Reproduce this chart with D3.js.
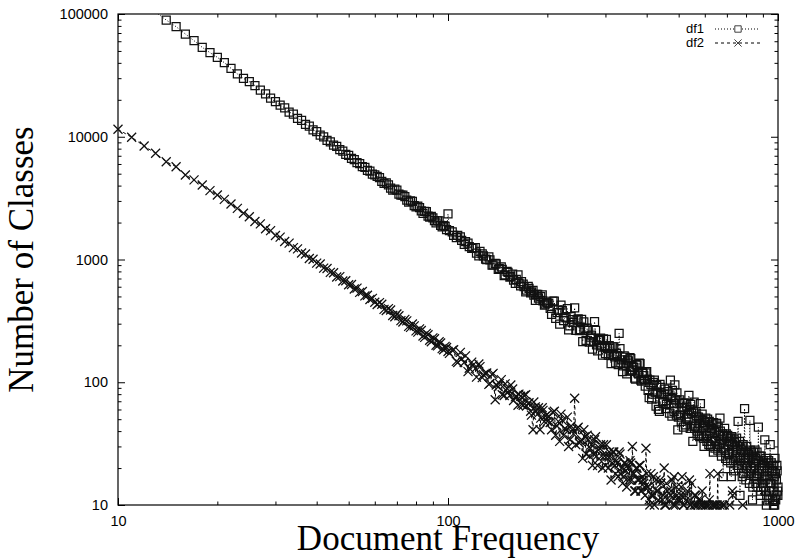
<!DOCTYPE html>
<html lang="en">
<head>
<meta charset="utf-8">
<title>df1 / df2</title>
<script src="https://d3js.org/d3.v7.min.js"></script>
<style>
  body { margin: 0; background: #fff; }
  .tick text { font-family: "Liberation Sans", Arial, sans-serif; font-size: 14.5px; fill: #000; }
  .title { font-family: "Liberation Serif", "Times New Roman", serif; font-size: 35px; fill: #000; }
  .legend text { font-family: "Liberation Sans", Arial, sans-serif; font-size: 13px; fill: #000; }
</style>
</head>
<body>
<div id="chart"></div>
<script>
// document frequencies sampled along the axis
var freqA = [10,11,12,13,14,15,16,17,18,19,20,21,22,23,24,25,26,27,28,29,30,31,32,33,34,35,36,37,38,39,
  40,41,42,43,44,45,46,47,48,49,50,51,52,53,54,55,56,57,58,59,60];
var freqB = [62,64,66,68,70,72,74,76,78,80,82,84,86,88,90,92,94,96,98,100];
var freqC = [103,106,109,112,115,118,121,124,127,130,133,136,139,142,145,148,151,154,157,160,163,166,169,
  172,175,178,181,184,187,190,193,196,199];
var freqD = [202,206,210,214,218,222,226,230,234,238,242,246,250,254,258,262,266,270,274,278,282,286,290,
  294,298,302,306,310,314,318,322,326,330,334,338,342,346,350,354,358,362,366,370,374,378,382,386,390,394,398];
var freqE = [402,407,412,417,422,427,432,437,442,447,452,457,462,467,472,477,482,487,492,497,502,507,512,517,
  522,527,532,537,542,547,552,557,562,567,572,577,582,587,592,597,602,607,612,617,622,627,632,637,642,647,
  652,657,662,667,672,677,682,687,692,697,702,707,712,717,722,727,732,737,742,747,752,757,762,767,772,777,
  782,787,792,797,802,807,812,817,822,827,832,837,842,847,852,857,862,867,872,877,882,887,892,897,902,907,
  912,917,922,927,932,937,942,947,952,957,962,967,972,977,982,987,992,997,1000];
// in-between frequencies
var freqB2 = [61,63,65,67,69,71,73,75,77,79,81,83,85,87,89,91,93,95,97,99];
var freqC2 = [101,104,107,110,113,116,119,122,125,128,131,134,137,140,143,146,149,152,155,158,161,164,167,
  170,173,176,179,182,185,188,191,194,197,200];
var freqD2 = [204,208,212,216,220,224,228,232,236,240,244,248,252,256,260,264,268,272,276,280,284,288,292,
  296,300,304,308,312,316,320,324,328,332,336,340,344,348,352,356,360,364,368,372,376,380,384,388,392,396,400];
var freqE2 = [404,409,414,419,424,429,434,439,444,449,454,459,464,469,474,479,484,489,494,499,504,509,514,519,
  524,529,534,539,544,549,554,559,564,569,574,579,584,589,594,599,604,609,614,619,624,629,634,639,644,649,
  654,659,664,669,674,679,684,689,694,699,704,709,714,719,724,729,734,739,744,749,754,759,764,769,774,779,
  784,789,794,799,804,809,814,819,824,829,834,839,844,849,854,859,864,869,874,879,884,889,894,899,904,909,
  914,919,924,929,934,939,944,949,954,959,964,969,974,979,984,989,994,999];

// number of classes, df1 (starts at 13)
var df1Count = [104000,
  89300,78800,68700,60600,53500,48400,44400,40100,36100,32500,29900,28100,26100,24000,22300,20600,19300,
  18100,17200,15900,15300,14100,13600,12600,12200,11400,11000,10300,10000,9350,9100,8550,8350,7850,7650,
  7200,7050,6650,6520,6150,6050,5720,5620,5320,5250,4950,4900,
  4640,4180,4060,3670,3680,3350,3260,2940,2970,2680,2650,2380,2460,2210,2180,1990,2060,1840,1860,2350,
  1680,1510,1530,1325,1360,1230,1250,1070,1110,1005,1050,900,930,830,870,740,800,720,760,640,750,610,630,
  545,605,535,560,465,520,465,515,424,450,
  442,358,457,369,298,383,340,397,288,324, 404,321,263,325,310,219,264,233,186,312,
  202,218,229,166,195,223,166,189,168,194, 144,165,250,144,122,164,143,152,123,156,
  126,132,106,138,117,142,102,118,105,119,
  106,75,96,80,104,64,83,58,91,70, 80,61,80,67,104,53,67,95,54,41,
  69,54,62,43,68,51,55,78,42,56, 33,69,44,53,37,46,67,38,49,30,
  45,37,50,31,40,33,45,27,39,33, 46,28,37,51,27,34,17,37,28,38,
  23,31,26,35,17,31,23,34,25,28, 21,48,24,12,29,21,30,18,61,24,
  20,27,18,24,49,20,27,11,22,17, 28,15,23,18,43,18,25,13,20,15,
  23,17,34,13,10,20,15,23,13,31, 15,19,11,21,13,10,18,12,21,13, 14];
var df1CountExtra = [
  4760,4330,4210,3820,3740,3410,3350,3040,3010,2750,2720,2490,2470,2260,2250,2070,2060,1900,1890,1750,
  1715,1570,1575,1432,1397,1275,1248,1129,1165,1068,1000,995,904,920,847,829,749,787,728,680,
  689,638,659,600,562,582,546,512,521,485,499,460,433,442,
  399,457,331,388,424,318,334,267,342,307, 265,328,268,214,275,276,212,242,214,265,
  180,222,198,226,171,189,199,142,194,161, 172,139,188,152,136,160,117,149,159,124,
  133,108,139,119,143,104,121,113,93,122,
  86,104,73,100,83,94,60,96,80,68, 88,66,84,56,75,86,58,72,82,52,
  72,48,67,62,45,64,50,60,66,44, 58,42,56,40,52,36,50,55,35,47,
  51,33,44,48,30,42,35,47,29,41, 30,43,31,40,25,38,29,42,24,35,
  37,26,33,22,36,27,19,32,24,35, 30,20,33,23,28,17,31,22,27,16,
  30,21,26,15,28,19,25,14,27,20, 24,17,27,14,23,19,12,25,17,22,
  14,21,16,24,12,19,22,11,20,15, 22,13,19,10,17,24,11,16,19,12];

// number of classes, df2 (ends near 800)
var df2Count = [
  11500,9900,8400,7330,6260,5700,4880,4450,4050,3640,3350,3090,2830,2610,2380,2230,2040,1950,1780,1720,
  1570,1520,1400,1360,1250,1220,1130,1110,1020,1005,935,920,850,845,785,780,720,725,668,672,
  622,625,575,585,540,548,505,512,472,482,448,
  445,392,398,350,360,318,325,285,298,262,272,238,250,220,230,200,214,188,196,178,
  182,148,175,145,122,146,129,141,109,117, 96,116,72,92,105,78,89,78,88,76,
  65,77,65,79,67,58,41,63,55,41, 62,48,54,
  53,41,58,44,33,49,42,52,34,41, 74,42,32,34,41,26,34,29,21,34,
  25,28,31,20,25,31,20,25,22,27, 18,22,27,18,15,22,19,21,16,22,
  30,18,13,20,16,21,13,16,14,29,
  14,11,18,12,10,16,13,9,15,11, 20,10,13,8,12,16,10,9,14,11,
  8,12,17,10,7,11,13,9,10,15, 8,10,12,7,10,9,11,6,10,8,
  10,7,9,10,18,7,10,6,9,10, 7,18,6,10,8,5,7,10,6,5,
  8,6,4,7,5,13,6,4,5,7, 4,6,5,3,4,5,10,4,3,5, 4];
var df2CountExtra = [
  430,432,384,388,342,348,310,316,280,288,256,264,232,244,214,226,198,209,184,192,
  172,184,145,155,164,130,138,110,134,115, 119,98,118,95,98,79,97,83,95,71,
  77,80,66,78,64,68,54,69,58,62, 51,59,53,48,
  47,57,37,48,55,37,41,30,44,38, 31,43,33,24,36,37,25,31,26,36,
  21,29,25,31,21,25,27,16,27,21, 23,17,26,20,17,22,14,20,23,16,
  18,13,20,16,21,13,17,15,12,18,
  14,10,12,17,9,13,11,16,8,12, 10,15,9,11,13,8,17,10,12,9,
  11,14,8,10,12,9,7,16,10,8, 9,12,10,7,11,8,10,13,6,9,
  8,10,6,11,7,9,5,10,8,6, 10,7,5,9,6,10,4,7,5,8,
  6,4,10,5,7,12,4,6,3,5, 7,4,5,3,6,4,5,3,4,3];

var xTicks = [10, 100, 1000];
var yTicks = [10, 100, 1000, 10000, 100000];

var byFreq = function(a, b){ return a[0] - b[0]; };
var df1 = d3.zip(freqA.slice(3).concat(freqB, freqC, freqD, freqE), df1Count)
  .concat(d3.zip(freqB2.concat(freqC2, freqD2, freqE2), df1CountExtra))
  .sort(byFreq);
var df2 = d3.zip(freqA.concat(freqB, freqC, freqD, freqE.slice(0, 81)), df2Count)
  .concat(d3.zip(freqB2.concat(freqC2, freqD2, freqE2.slice(0, 80)), df2CountExtra))
  .sort(byFreq);

var W = 798, H = 558;
var L = 118, R = 778, T = 14, B = 505;

var svg = d3.select("#chart").append("svg")
  .attr("width", W)
  .attr("height", H);

var x = d3.scaleLog().domain([10, 1000]).range([L, R]);
var y = d3.scaleLog().domain([10, 100000]).range([B, T]);

// minor ticks 2..9 in each decade
var xMinor = x.ticks().filter(function(d){ return xTicks.indexOf(d) < 0; });
var yMinor = y.ticks().filter(function(d){ return yTicks.indexOf(d) < 0; });

function axisPair(axisFn, scale, major, minor, pos, labels) {
  var g1 = svg.append("g").attr("transform", pos)
    .call(axisFn(scale).tickValues(major).tickSizeInner(-7).tickSizeOuter(0)
      .tickPadding(labels ? 11 : 0).tickFormat(labels ? function(d){ return d; } : function(){ return ""; }));
  var g2 = svg.append("g").attr("transform", pos)
    .call(axisFn(scale).tickValues(minor).tickSizeInner(-3.5).tickSizeOuter(0).tickFormat(function(){ return ""; }));
  [g1, g2].forEach(function(g){
    g.select(".domain").remove();
    g.selectAll(".tick line").attr("stroke", "#000").attr("stroke-width", 1);
  });
  return g1;
}

axisPair(d3.axisBottom, x, xTicks, xMinor, "translate(0," + B + ")", true);
axisPair(d3.axisTop, x, xTicks, xMinor, "translate(0," + T + ")", false);
var yl = axisPair(d3.axisLeft, y, yTicks, yMinor, "translate(" + L + ",0)", true);
yl.selectAll(".tick text").attr("x", -10);
axisPair(d3.axisRight, y, yTicks, yMinor, "translate(" + R + ",0)", false);

svg.append("rect")
  .attr("x", L).attr("y", T)
  .attr("width", R - L).attr("height", B - T)
  .attr("fill", "none").attr("stroke", "#000").attr("stroke-width", 1.2);

svg.append("clipPath").attr("id", "plot")
  .append("rect").attr("x", L).attr("y", T).attr("width", R - L).attr("height", B - T);

var line = d3.line()
  .x(function(d){ return x(d[0]); })
  .y(function(d){ return y(d[1]); });

svg.append("path").datum(df1)
  .attr("clip-path", "url(#plot)")
  .attr("d", line)
  .attr("fill", "none").attr("stroke", "#000").attr("stroke-width", 1)
  .attr("stroke-dasharray", "1,2");

svg.append("path").datum(df2)
  .attr("clip-path", "url(#plot)")
  .attr("d", line)
  .attr("fill", "none").attr("stroke", "#000").attr("stroke-width", 1)
  .attr("stroke-dasharray", "3,3");

function inside(d) { return d[1] >= 10 && d[1] <= 100000 && d[0] >= 10 && d[0] <= 1000; }

var square = "M-4,-4h8v8h-8z";
var cross = "M-4.5,-4.5L4.5,4.5M-4.5,4.5L4.5,-4.5";

svg.append("g").selectAll("path")
  .data(df1.filter(inside))
  .enter().append("path")
    .attr("transform", function(d){ return "translate(" + x(d[0]) + "," + y(d[1]) + ")"; })
    .attr("d", square)
    .attr("fill", "none").attr("stroke", "#111").attr("stroke-width", 1.25);

svg.append("g").selectAll("path")
  .data(df2.filter(inside))
  .enter().append("path")
    .attr("transform", function(d){ return "translate(" + x(d[0]) + "," + y(d[1]) + ")"; })
    .attr("d", cross)
    .attr("fill", "none").attr("stroke", "#111").attr("stroke-width", 1.25);

// legend
var leg = svg.append("g").attr("class", "legend");
leg.append("text").attr("x", 704).attr("y", 33).attr("text-anchor", "end").text("df1");
leg.append("text").attr("x", 704).attr("y", 47).attr("text-anchor", "end").text("df2");
leg.append("line").attr("x1", 715).attr("x2", 760).attr("y1", 29).attr("y2", 29)
  .attr("stroke", "#000").attr("stroke-dasharray", "1,2");
leg.append("line").attr("x1", 715).attr("x2", 760).attr("y1", 43).attr("y2", 43)
  .attr("stroke", "#000").attr("stroke-dasharray", "3,3");
leg.append("path").attr("transform", "translate(738,29) scale(0.8)").attr("d", square)
  .attr("fill", "#fff").attr("stroke", "#111");
leg.append("path").attr("transform", "translate(738,43) scale(0.8)").attr("d", cross)
  .attr("fill", "none").attr("stroke", "#111");

// titles
svg.append("text").attr("class", "title")
  .attr("x", (L + R) / 2).attr("y", 550)
  .attr("text-anchor", "middle")
  .text("Document Frequency");

svg.append("text").attr("class", "title")
  .attr("transform", "translate(33," + (T + B) / 2 + ") rotate(-90)")
  .attr("text-anchor", "middle")
  .text("Number of Classes");
</script>
</body>
</html>
